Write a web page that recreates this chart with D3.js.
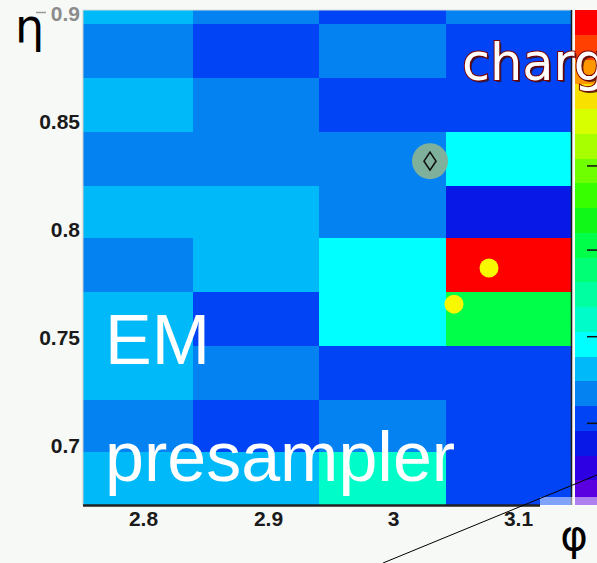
<!DOCTYPE html>
<html>
<head>
<meta charset="utf-8">
<script src="https://cdnjs.cloudflare.com/ajax/libs/d3/7.8.5/d3.min.js"></script>
<style>
  html, body { margin: 0; padding: 0; background: #f6f9f6; }
  svg { display: block; }
</style>
</head>
<body>
<div id="vis"></div>
<script>
// cell edges (phi across, eta up)
const phiEdges = [2.74, 2.84, 2.941, 3.042, 3.143];
const etaEdges = [0.672, 0.697, 0.721, 0.746, 0.771, 0.796, 0.820, 0.845, 0.870, 0.895, 0.92];

// palette band of every cell, bottom row first, one entry per phi column
const cellBands = [
  [5, 5, 7, 3],
  [4, 3, 4, 3],
  [5, 4, 3, 3],
  [5, 3, 6, 10],
  [4, 5, 6, 19],
  [5, 5, 4, 2],
  [4, 4, 4, 6],
  [5, 4, 3, 3],
  [4, 3, 4, 3],
  [5, 4, 3, 4]
];

// palette, lowest band first
const paletteColors = [
  '#5a00e0', '#2c00e2', '#0818e6', '#0044f6', '#0482f2',
  '#00b9f8', '#00ffff', '#00fcc8', '#00ffa0', '#00ff74',
  '#00ff48', '#10f818', '#38ff00', '#70ff00', '#a8ff00',
  '#d8ff00', '#f8e000', '#ff9800', '#ff4000', '#ff0000'
];
const paletteTicks = [3.3, 6.8, 10.3, 13.7];

const phiTicks = [2.8, 2.9, 3, 3.1];
const etaTicks = [0.7, 0.75, 0.8, 0.85, 0.9];

// hits drawn on top of the cells
const greyHits = [{ phi: 3.0296, eta: 0.8317 }];
const yellowHits = [{ phi: 3.0768, eta: 0.7822 }, { phi: 3.0488, eta: 0.7655 }];

const width = 597, height = 563;
const plotLeft = 83, plotRight = 572, plotTop = 10, plotBottom = 505;

let svg = d3.select('#vis')
  .append('svg')
  .attr('width', width)
  .attr('height', height);

svg.append('rect')
  .attr('width', width)
  .attr('height', height)
  .attr('fill', '#f6f9f6');

let x = d3.scaleLinear().domain([2.752, 3.1432]).range([plotLeft, plotRight]);
let y = d3.scaleLinear().domain([0.6725, 0.9017]).range([plotBottom, plotTop]);
let color = d3.scaleQuantize().domain([0, paletteColors.length]).range(paletteColors);

svg.append('clipPath')
  .attr('id', 'plotClip')
  .append('rect')
  .attr('x', plotLeft)
  .attr('y', plotTop)
  .attr('width', plotRight - plotLeft)
  .attr('height', plotBottom - plotTop);

let cells = [];
cellBands.forEach(function (row, r) {
  row.forEach(function (b, c) {
    cells.push({ phi0: phiEdges[c], phi1: phiEdges[c + 1], eta0: etaEdges[r], eta1: etaEdges[r + 1], band: b });
  });
});

svg.append('g')
  .attr('clip-path', 'url(#plotClip)')
  .selectAll('rect')
  .data(cells)
  .enter()
  .append('rect')
  .attr('x', d => x(d.phi0))
  .attr('y', d => y(d.eta1))
  .attr('width', d => x(d.phi1) - x(d.phi0))
  .attr('height', d => y(d.eta0) - y(d.eta1))
  .attr('shape-rendering', 'crispEdges')
  .attr('fill', d => color(d.band + 0.5));

// frame
svg.append('line')
  .attr('x1', plotLeft).attr('x2', plotLeft).attr('y1', plotTop).attr('y2', plotBottom)
  .attr('stroke', '#c8ccc8').attr('stroke-width', 1);
svg.append('line')
  .attr('x1', plotLeft).attr('x2', plotRight).attr('y1', plotTop).attr('y2', plotTop)
  .attr('stroke', '#d8dcd8').attr('stroke-width', 1);
svg.append('line')
  .attr('x1', plotRight - 0.5).attr('x2', plotRight - 0.5).attr('y1', plotTop).attr('y2', plotBottom)
  .attr('stroke', '#1a1a1a').attr('stroke-width', 1.5);
svg.append('line')
  .attr('x1', plotLeft).attr('x2', 540).attr('y1', plotBottom + 0.5).attr('y2', plotBottom + 0.5)
  .attr('stroke', '#222').attr('stroke-width', 2.5);

// palette bar
let band = d3.scaleLinear().domain([0, paletteColors.length]).range([plotBottom, plotTop]);

svg.append('g')
  .selectAll('rect')
  .data(paletteColors)
  .enter()
  .append('rect')
  .attr('x', 575)
  .attr('y', (d, i) => band(i + 1))
  .attr('width', 30)
  .attr('height', (d, i) => band(i) - band(i + 1))
  .attr('shape-rendering', 'crispEdges')
  .attr('fill', d => d);

svg.append('g')
  .selectAll('line')
  .data(paletteTicks)
  .enter()
  .append('line')
  .attr('x1', 587).attr('x2', 597)
  .attr('y1', d => band(d)).attr('y2', d => band(d))
  .attr('stroke', '#111').attr('stroke-width', 1.5);

// axes
let xAxis = svg.append('g')
  .attr('transform', 'translate(0,' + plotBottom + ')')
  .call(d3.axisBottom(x).tickValues(phiTicks).tickSize(0).tickPadding(6).tickFormat(d3.format('')));

let yAxis = svg.append('g')
  .attr('transform', 'translate(' + plotLeft + ',0)')
  .call(d3.axisLeft(y).tickValues(etaTicks).tickSize(0).tickPadding(3).tickFormat(d3.format('')));

[xAxis, yAxis].forEach(function (ax) {
  ax.select('.domain').remove();
  ax.selectAll('text')
    .style('font-family', '"Liberation Sans", Arial, sans-serif')
    .style('font-weight', 'bold')
    .style('font-size', '21px')
    .attr('fill', '#1a1a1a');
});
yAxis.selectAll('text').filter(d => d === 0.9).attr('fill', '#8c8c8c');

svg.append('line')
  .attr('x1', 36).attr('x2', 46).attr('y1', 12.5).attr('y2', 12.5)
  .attr('stroke', '#9a9a9a').attr('stroke-width', 1.5);

// axis titles
svg.append('text')
  .attr('x', 15).attr('y', 42)
  .style('font-family', '"DejaVu Sans", sans-serif')
  .style('font-size', '46px')
  .attr('fill', '#000')
  .text('η');

svg.append('text')
  .attr('x', 574).attr('y', 550)
  .attr('text-anchor', 'middle')
  .style('font-family', '"DejaVu Sans", sans-serif')
  .style('font-size', '42px')
  .attr('fill', '#000')
  .text('φ');

// hits
let hitG = svg.append('g');

hitG.selectAll('circle.grey')
  .data(greyHits)
  .enter()
  .append('circle')
  .attr('class', 'grey')
  .attr('cx', d => x(d.phi)).attr('cy', d => y(d.eta))
  .attr('r', 18)
  .attr('fill', '#7fb09c');

hitG.selectAll('path.diamond')
  .data(greyHits)
  .enter()
  .append('path')
  .attr('class', 'diamond')
  .attr('d', function (d) {
    let cx = x(d.phi), cy = y(d.eta);
    return 'M' + cx + ',' + (cy - 9) + 'L' + (cx + 6) + ',' + cy + 'L' + cx + ',' + (cy + 9) + 'L' + (cx - 6) + ',' + cy + 'Z';
  })
  .attr('fill', 'none')
  .attr('stroke', '#111')
  .attr('stroke-width', 1.6);

hitG.selectAll('circle.yellow')
  .data(yellowHits)
  .enter()
  .append('circle')
  .attr('class', 'yellow')
  .attr('cx', d => x(d.phi)).attr('cy', d => y(d.eta))
  .attr('r', 9.5)
  .attr('fill', '#f8f800');

// labels
svg.append('text')
  .attr('x', 105).attr('y', 364)
  .style('font-family', '"Liberation Sans", Arial, sans-serif')
  .style('font-size', '70px')
  .attr('fill', '#fff')
  .text('EM');

svg.append('text')
  .attr('x', 105).attr('y', 481)
  .style('font-family', '"Liberation Sans", Arial, sans-serif')
  .style('font-size', '70px')
  .attr('fill', '#fff')
  .text('presampler');

svg.append('text')
  .attr('x', 464).attr('y', 82)
  .style('font-family', '"DejaVu Sans", sans-serif')
  .style('font-size', '51px')
  .attr('fill', '#3a1010')
  .attr('opacity', 0.8)
  .text('charge');

svg.append('text')
  .attr('x', 462).attr('y', 80)
  .style('font-family', '"DejaVu Sans", sans-serif')
  .style('font-size', '51px')
  .attr('fill', '#fff')
  .attr('stroke', '#7a0000')
  .attr('stroke-width', 2)
  .attr('paint-order', 'stroke')
  .text('charge');

// pale box and pointer line bottom right
svg.append('rect')
  .attr('x', 540).attr('y', 497)
  .attr('width', 57).attr('height', 9)
  .attr('fill', '#ffffff')
  .attr('opacity', 0.5);

svg.append('line')
  .attr('x1', 383).attr('y1', 563)
  .attr('x2', 597).attr('y2', 475)
  .attr('stroke', '#000')
  .attr('stroke-width', 1);
</script>
</body>
</html>
